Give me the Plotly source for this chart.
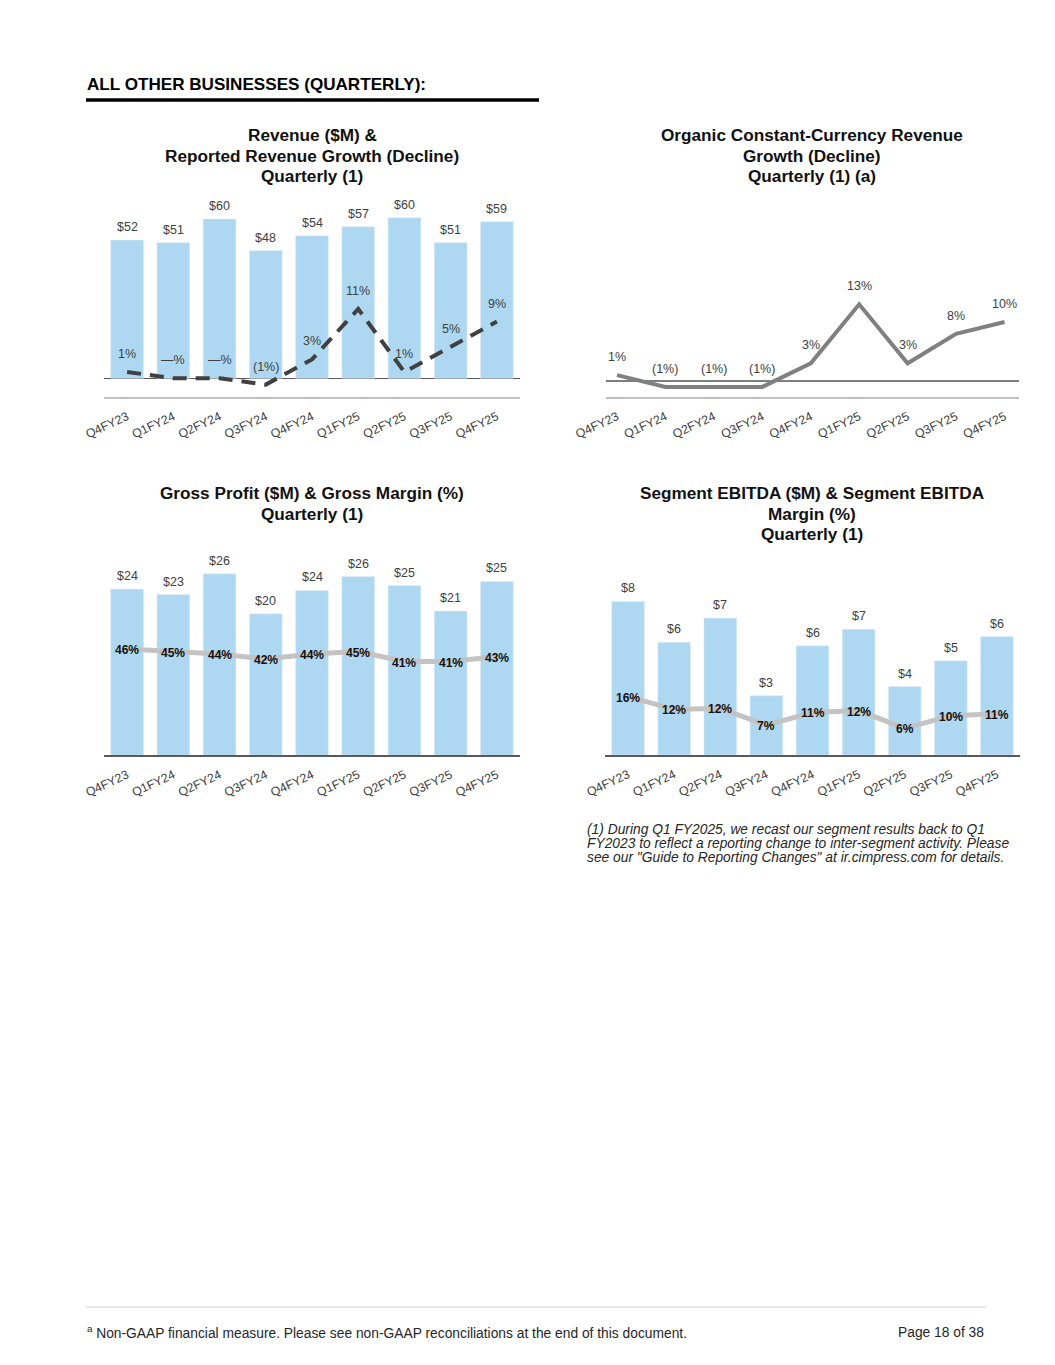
import plotly.graph_objects as go

# page body has an 8px margin; draw in reference pixel coords shifted by OFF
OFF = 8
W, H = 1039, 1340

quarters = ["Q4FY23", "Q1FY24", "Q2FY24", "Q3FY24", "Q4FY24", "Q1FY25", "Q2FY25", "Q3FY25", "Q4FY25"]
revenue = [52, 51, 59.9, 48, 53.6, 57, 60.4, 51, 58.9]
revenue_growth = [1, 0, 0, -1, 3, 11, 1, 5, 9]
organic_growth = [1, -1, -1, -1, 3, 13, 3, 8, 10]
gross_profit = [24.1, 23.3, 26.3, 20.5, 23.9, 25.9, 24.6, 20.9, 25.2]
gross_margin = [46, 45, 44, 42, 44, 45, 41, 41, 43]
ebitda = [8.3, 6.1, 7.4, 3.2, 5.9, 6.8, 3.7, 5.1, 6.4]
ebitda_margin = [16, 12, 12.3, 7, 11, 11.6, 6, 10, 10.6]

titles = [
    ["Revenue ($M) &", "Reported Revenue Growth (Decline)", "Quarterly (1)"],
    ["Organic Constant-Currency Revenue", "Growth (Decline)", "Quarterly (1) (a)"],
    ["Gross Profit ($M) & Gross Margin (%)", "Quarterly (1)"],
    ["Segment EBITDA ($M) & Segment EBITDA", "Margin (%)", "Quarterly (1)"],
]
header = "ALL OTHER BUSINESSES (QUARTERLY):"
footnote_lines = [
    "(1) During Q1 FY2025, we recast our segment results back to Q1",
    "FY2023 to reflect a reporting change to inter-segment activity. Please",
    "see our \"Guide to Reporting Changes\" at ir.cimpress.com for details.",
]
footer_left = "<sup>a</sup> Non-GAAP financial measure. Please see non-GAAP reconciliations at the end of this document."
footer_right = "Page 18 of 38"

FONT = "Liberation Sans, Arial, sans-serif"
BAR = "#AED8F2"
TXT = "#404040"


def fx(px):
    return (px - OFF) / W


def fy(py):
    return 1 - (py - OFF) / H


def xd(l, r):
    return [fx(l), fx(r)]


def yd(top, bottom):
    return [fy(bottom), fy(top)]


def pct(v):
    r = int(round(v))
    if r == 0:
        return "\u2014%"
    if r < 0:
        return f"({-r}%)"
    return f"{r}%"


fig = go.Figure()

# Chart 1
fig.add_trace(go.Bar(x=quarters, y=revenue, marker_color=BAR, xaxis="x", yaxis="y", hoverinfo="skip"))
fig.add_trace(go.Scatter(x=quarters, y=revenue_growth, mode="lines", xaxis="x", yaxis="y2",
                         line=dict(color="#404040", width=4, dash="14px,9px"), hoverinfo="skip"))
# Chart 2
fig.add_trace(go.Scatter(x=quarters, y=organic_growth, mode="lines", xaxis="x2", yaxis="y3",
                         line=dict(color="#808080", width=4), hoverinfo="skip"))
# Chart 3
fig.add_trace(go.Bar(x=quarters, y=gross_profit, marker_color=BAR, xaxis="x3", yaxis="y4", hoverinfo="skip"))
fig.add_trace(go.Scatter(x=quarters, y=gross_margin, mode="lines", xaxis="x3", yaxis="y5",
                         line=dict(color="#C3C3C3", width=5), hoverinfo="skip"))
# Chart 4
fig.add_trace(go.Bar(x=quarters, y=ebitda, marker_color=BAR, xaxis="x4", yaxis="y6", hoverinfo="skip"))
fig.add_trace(go.Scatter(x=quarters, y=ebitda_margin, mode="lines", xaxis="x4", yaxis="y7",
                         line=dict(color="#C3C3C3", width=5), hoverinfo="skip"))

tickfont = dict(family=FONT, size=12.3, color=TXT)


def xaxis(domain, anchor, linecolor):
    return dict(domain=domain, anchor=anchor, showline=True, linecolor=linecolor, linewidth=2,
                showgrid=False, zeroline=False, tickangle=-25, tickfont=tickfont, ticks="",
                ticklabelstandoff=6, fixedrange=True, automargin=False)


def yaxis(domain, anchor, rng, zl=False, zlcolor="#595959", overlay=None):
    d = dict(domain=domain, anchor=anchor, range=rng, showticklabels=False, showgrid=False,
             zeroline=zl, zerolinecolor=zlcolor, zerolinewidth=1.5, showline=False, fixedrange=True,
             automargin=False)
    if overlay:
        d["overlaying"] = overlay
        d.pop("domain")
    return d


fig.update_layout(
    width=W, height=H, margin=dict(l=0, r=0, t=0, b=0, autoexpand=False),
    paper_bgcolor="white", plot_bgcolor="rgba(0,0,0,0)",
    showlegend=False, bargap=0.29,
    font=dict(family=FONT, color=TXT),
    xaxis=xaxis(xd(104, 520), "y", "#BFBFBF"),
    yaxis=yaxis(yd(200, 397), "x", [-7.03, 67.03], zl=True),
    yaxis2=yaxis(None, "x", [-2.968, 28.30], overlay="y"),
    xaxis2=xaxis(xd(606, 1019), "y3", "#BFBFBF"),
    yaxis3=yaxis(yd(200, 397), "x2", [-2.712, 30.68], zl=True, zlcolor="#7F7F7F"),
    xaxis3=xaxis(xd(104, 520), "y4", "#595959"),
    yaxis4=yaxis(yd(545, 755.3), "x3", [0, 30.48]),
    yaxis5=yaxis(None, "x3", [3.48, 87.6], overlay="y4"),
    xaxis4=xaxis(xd(605, 1020), "y6", "#595959"),
    yaxis6=yaxis(yd(545, 755), "x4", [0, 11.35]),
    yaxis7=yaxis(None, "x4", [-2.45, 64.0], overlay="y6"),
)

ann = []
# bar value labels
for xr, yr, vals in [("x", "y", revenue), ("x3", "y4", gross_profit), ("x4", "y6", ebitda)]:
    for q, v in zip(quarters, vals):
        ann.append(dict(x=q, y=v, xref=xr, yref=yr, text=f"${round(v)}", showarrow=False,
                        yanchor="middle", yshift=13, font=dict(family=FONT, size=12.5, color=TXT)))
# growth line labels (above points)
for xr, yr, vals in [("x", "y2", revenue_growth), ("x2", "y3", organic_growth)]:
    for q, v in zip(quarters, vals):
        ann.append(dict(x=q, y=v, xref=xr, yref=yr, text=pct(v), showarrow=False,
                        yanchor="middle", yshift=18, font=dict(family=FONT, size=12.5, color=TXT)))
# margin line labels (on points, bold)
for xr, yr, vals in [("x3", "y5", gross_margin), ("x4", "y7", ebitda_margin)]:
    for q, v in zip(quarters, vals):
        ann.append(dict(x=q, y=v, xref=xr, yref=yr, text=f"<b>{pct(v)}</b>", showarrow=False,
                        yanchor="middle", yshift=-1, font=dict(family=FONT, size=12, color="#111111")))

# titles (one annotation per line for exact line spacing)
title_pos = [(312, 135), (812, 135), (312, 493), (812, 493)]
for lines, (cx, cy) in zip(titles, title_pos):
    for i, line in enumerate(lines):
        ann.append(dict(x=fx(cx), y=fy(cy + 20.7 * i), xref="paper", yref="paper", text=f"<b>{line}</b>",
                        showarrow=False, xanchor="center", yanchor="middle",
                        font=dict(family=FONT, size=17.2, color="#111111")))

# header
ann.append(dict(x=fx(85), y=fy(85), xref="paper", yref="paper", text=f"<b>{header}</b>", showarrow=False,
                xanchor="left", yanchor="middle", font=dict(family=FONT, size=17.1, color="#000000")))

# footnote
for i, line in enumerate(footnote_lines):
    ann.append(dict(x=fx(585), y=fy(829 + 14 * i), xref="paper", yref="paper", text=f"<i>{line}</i>",
                    showarrow=False, xanchor="left", yanchor="middle",
                    font=dict(family=FONT, size=13.8, color="#262626")))

# footer
ann.append(dict(x=fx(85), y=fy(1332), xref="paper", yref="paper", text=footer_left, showarrow=False,
                xanchor="left", yanchor="middle", font=dict(family=FONT, size=13.8, color="#262626")))
ann.append(dict(x=fx(986), y=fy(1332), xref="paper", yref="paper", text=footer_right, showarrow=False,
                xanchor="right", yanchor="middle", font=dict(family=FONT, size=13.8, color="#262626")))

fig.update_layout(annotations=ann)

fig.update_layout(shapes=[
    dict(type="line", xref="paper", yref="paper", x0=fx(86), x1=fx(539), y0=fy(100), y1=fy(100),
         line=dict(color="#000000", width=3.5)),
    dict(type="line", xref="paper", yref="paper", x0=fx(86), x1=fx(986), y0=fy(1307), y1=fy(1307),
         line=dict(color="#D0D0D0", width=1)),
])

fig.write_html("out.html", config={"displayModeBar": False, "staticPlot": True})
